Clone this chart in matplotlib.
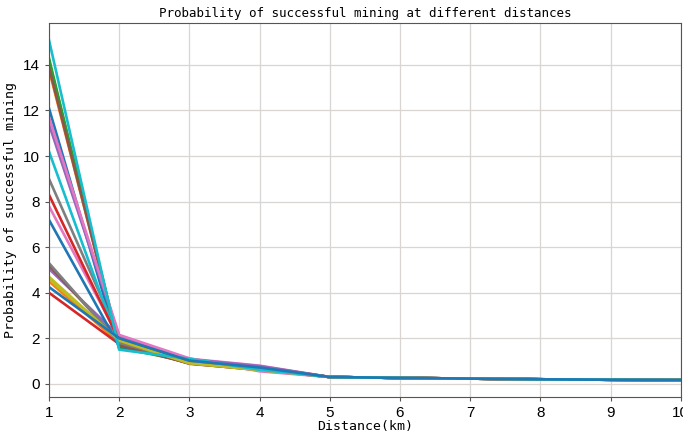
import matplotlib
matplotlib.use("Agg")
import matplotlib.pyplot as plt

distance = [1, 2, 3, 4, 5, 6, 7, 8, 9, 10]

# start value at 1 km, then the tail for 2..10 km
start = [12.1, 4.5, 14.3, 4.0, 5.05, 5.2, 7.8, 9.0, 4.6, 10.2,
         7.2, 13.8, 14.2, 8.3, 11.4, 13.9, 11.7, 5.3, 4.7, 15.1, 4.25]
at2 = [1.55, 1.8, 1.6, 1.75, 2.1, 1.85, 2.0, 2.05, 1.95, 1.7,
       1.65, 1.75, 1.7, 1.9, 2.1, 1.7, 2.15, 1.8, 1.9, 1.5, 2.0]
at3 = [1.05, 1.0, 0.95, 0.9, 1.05, 0.88, 1.1, 1.0, 0.92, 1.05,
       1.0, 0.98, 0.95, 0.93, 1.08, 0.9, 1.12, 0.95, 0.9, 1.1, 1.02]
at4 = [0.7, 0.75, 0.65, 0.6, 0.72, 0.62, 0.8, 0.7, 0.65, 0.68,
       0.75, 0.7, 0.62, 0.66, 0.78, 0.64, 0.55, 0.7, 0.6, 0.62, 0.72]
tail = [0.3, 0.26, 0.23, 0.2, 0.18, 0.17]  # 5..10 km

fig = plt.figure(figsize=(6.83, 4.34), dpi=100)
ax = fig.add_axes([0.0717, 0.0853, 0.925, 0.862])

for i in range(len(start)):
    y = [start[i], at2[i], at3[i], at4[i]] + tail
    ax.plot(distance, y, color=plt.cm.tab10(i % 10), linewidth=1.9)

ax.set_xlim(1, 10)
ax.set_xticks(distance)
ax.grid(True, color="#d9d5d2", linewidth=0.9)
ax.set_axisbelow(True)
for s in ax.spines.values():
    s.set_color("#555555")
ax.tick_params(labelsize=11, length=3, color="#555555")
for lab in ax.get_xticklabels() + ax.get_yticklabels():
    lab.set_family("Liberation Sans")

mono = "DejaVu Sans Mono"
ax.set_title("Probability of successful mining at different distances",
             fontsize=9, family=mono, pad=4)
ax.set_xlabel("Distance(km)", fontsize=9.5, family=mono, labelpad=0)
ax.set_ylabel("Probability of successful mining", fontsize=9.5, family=mono)

fig.savefig("out.png", dpi=100)
